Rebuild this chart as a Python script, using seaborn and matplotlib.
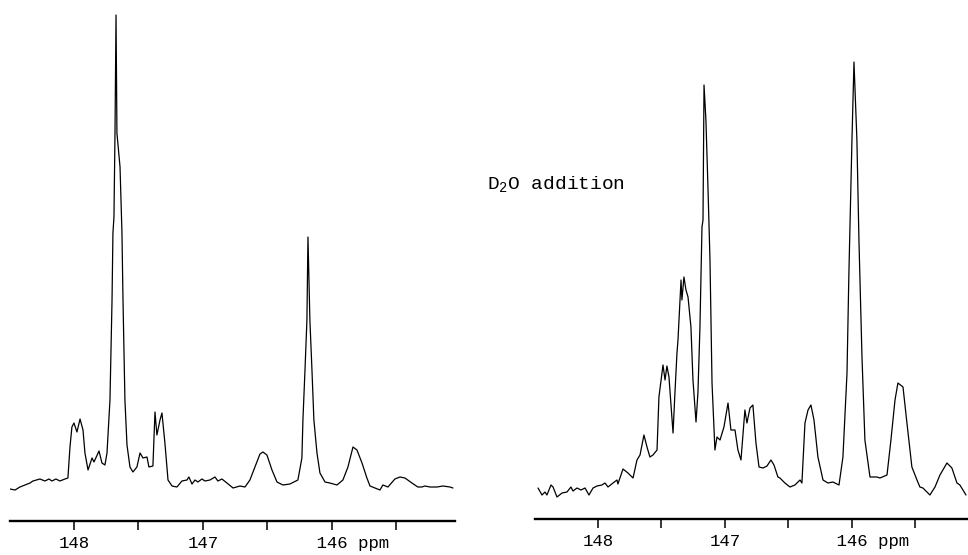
import numpy as np
import pandas as pd
import matplotlib
matplotlib.use("Agg")
import matplotlib.pyplot as plt
import seaborn as sns

# ---------------- data ----------------
# Left spectrum: chemical shift (ppm) and intensity (arbitrary units)
left_ppm = [148.496, 148.457, 148.419, 148.341, 148.318, 148.264, 148.225, 148.194,
            148.171, 148.140, 148.109, 148.070, 148.047, 148.031, 148.016, 148.000,
            147.977, 147.953, 147.930, 147.915, 147.891, 147.860, 147.845, 147.806,
            147.783, 147.760, 147.744, 147.721, 147.705, 147.698, 147.690, 147.682,
            147.674, 147.667, 147.643, 147.628, 147.620, 147.605, 147.589, 147.566,
            147.543, 147.512, 147.488, 147.465, 147.434, 147.419, 147.388, 147.372,
            147.357, 147.333, 147.318, 147.295, 147.271, 147.240, 147.202, 147.163,
            147.124, 147.109, 147.085, 147.062, 147.039, 147.008, 146.984, 146.946,
            146.907, 146.884, 146.853, 146.814, 146.767, 146.713, 146.674, 146.636,
            146.597, 146.558, 146.535, 146.504, 146.465, 146.426, 146.380, 146.326,
            146.264, 146.233, 146.225, 146.209, 146.194, 146.186, 146.171, 146.155,
            146.140, 146.116, 146.093, 146.054, 146.016, 145.961, 145.915, 145.876,
            145.837, 145.806, 145.767, 145.729, 145.705, 145.628, 145.605, 145.566,
            145.512, 145.473, 145.434, 145.380, 145.334, 145.303, 145.279, 145.240,
            145.186, 145.139, 145.085, 145.062]
left_int = [-2, -3, 0, 4, 6, 8, 6, 8,
            6, 8, 6, 8, 9, 40, 60, 64,
            55, 68, 57, 34, 17, 29, 25, 36,
            24, 22, 34, 87, 187, 254, 270, 354,
            472, 354, 320, 254, 187, 87, 42, 20,
            15, 20, 34, 29, 30, 20, 21, 75,
            52, 67, 74, 44, 7, 1, 0, 6,
            7, 10, 3, 7, 5, 8, 6, 7,
            10, 6, 8, 4, -1, 1, 0, 7,
            20, 33, 35, 32, 17, 5, 2, 3,
            7, 29, 67, 117, 167, 250, 167, 117,
            67, 34, 14, 5, 4, 2, 7, 20,
            40, 37, 24, 9, 1, -3, 2, 0,
            8, 10, 9, 4, 0, 0, 1, 0,
            0, 1, 0, -1]

# Right spectrum (after D2O addition)
right_ppm = [148.472, 148.441, 148.417, 148.402, 148.370, 148.354, 148.323, 148.283,
             148.244, 148.213, 148.197, 148.165, 148.134, 148.102, 148.071, 148.039,
             148.008, 147.969, 147.945, 147.921, 147.882, 147.850, 147.843, 147.803,
             147.764, 147.724, 147.693, 147.669, 147.638, 147.614, 147.591, 147.567,
             147.535, 147.520, 147.488, 147.472, 147.457, 147.441, 147.409, 147.394,
             147.378, 147.370, 147.346, 147.339, 147.323, 147.307, 147.291, 147.268,
             147.252, 147.228, 147.213, 147.197, 147.181, 147.173, 147.165, 147.150,
             147.134, 147.118, 147.102, 147.079, 147.063, 147.039, 147.008, 146.976,
             146.953, 146.921, 146.898, 146.874, 146.843, 146.827, 146.803, 146.780,
             146.756, 146.732, 146.701, 146.669, 146.638, 146.614, 146.583, 146.567,
             146.528, 146.488, 146.449, 146.409, 146.394, 146.370, 146.346, 146.323,
             146.299, 146.268, 146.228, 146.189, 146.150, 146.102, 146.071, 146.039,
             146.024, 146.000, 145.984, 145.961, 145.945, 145.921, 145.898, 145.858,
             145.803, 145.780, 145.724, 145.693, 145.661, 145.638, 145.598, 145.567,
             145.528, 145.488, 145.465, 145.441, 145.386, 145.346, 145.307, 145.252,
             145.213, 145.173, 145.150, 145.102]
right_int = [-1, -8, -5, -8, 2, 0, -10, -6,
             -5, 0, -4, -1, -3, -1, -8, -1,
             1, 2, 4, 0, 4, 7, 3, 18,
             14, 9, 27, 32, 52, 40, 30, 32,
             37, 90, 122, 107, 121, 110, 54, 94,
             134, 147, 207, 187, 210, 197, 190, 160,
             107, 65, 94, 160, 260, 267, 402, 367,
             300, 227, 104, 37, 50, 47, 60, 84,
             57, 57, 37, 27, 77, 64, 79, 82,
             44, 20, 19, 21, 27, 22, 10, 9,
             4, 0, 2, 7, 4, 64, 77, 82,
             67, 30, 7, 4, 5, 2, 30, 114,
             214, 347, 425, 347, 247, 130, 47, 10,
             10, 9, 12, 47, 87, 104, 100, 64,
             20, 7, 0, -1, -8, 0, 12, 24,
             19, 4, 2, -8]

tick_values = [148, 147.5, 147, 146.5, 146, 145.5]
tick_labels = ["148", "", "147", "", "    146 ppm", ""]
annotation = "D$_\\mathrm{2}$O addition"

# ---------------- styling ----------------
sns.set_style("white")
plt.rcParams["font.family"] = ["Liberation Mono", "DejaVu Sans Mono"]
plt.rcParams["mathtext.fontset"] = "custom"
plt.rcParams["mathtext.rm"] = "Liberation Mono"
plt.rcParams["mathtext.it"] = "Liberation Mono"
plt.rcParams["mathtext.bf"] = "Liberation Mono"

W, H = 968, 555
fig = plt.figure(figsize=(W / 100, H / 100), dpi=100)
fig.patch.set_facecolor("white")

def px_axes(x0, x1, y_axis):
    # axes spanning pixel columns x0..x1, from top of figure down to y_axis
    return fig.add_axes([x0 / W, (H - y_axis) / H, (x1 - x0) / W, y_axis / H])

left_df = pd.DataFrame({"ppm": left_ppm, "intensity": left_int})
right_df = pd.DataFrame({"ppm": right_ppm, "intensity": right_int})

panels = [
    (px_axes(10, 455, 521), left_df, (148.496, 145.046), (-34, 487)),
    (px_axes(535, 967, 519), right_df, (148.496, 145.094), (-32, 487)),
]

for ax, df, xl, yl in panels:
    sns.lineplot(data=df, x="ppm", y="intensity", ax=ax, color="black",
                 linewidth=0.9, sort=False, estimator=None)
    ax.set_xlim(*xl)
    ax.set_ylim(*yl)
    ax.set_facecolor("none")
    for s in ["top", "left", "right"]:
        ax.spines[s].set_visible(False)
    ax.spines["bottom"].set_linewidth(1.7)
    ax.spines["bottom"].set_color("black")
    ax.set_yticks([])
    ax.set_xticks(tick_values)
    ax.set_xticklabels(tick_labels)
    ax.tick_params(axis="x", direction="out", length=6.5, width=1.1,
                   colors="black", labelsize=12.5, pad=4.5, bottom=True)
    ax.set_xlabel("")
    ax.set_ylabel("")

fig.text(487 / W, (H - 189) / H, annotation, fontsize=14, color="black",
         ha="left", va="baseline")

fig.savefig("out.png", dpi=100, facecolor="white")
